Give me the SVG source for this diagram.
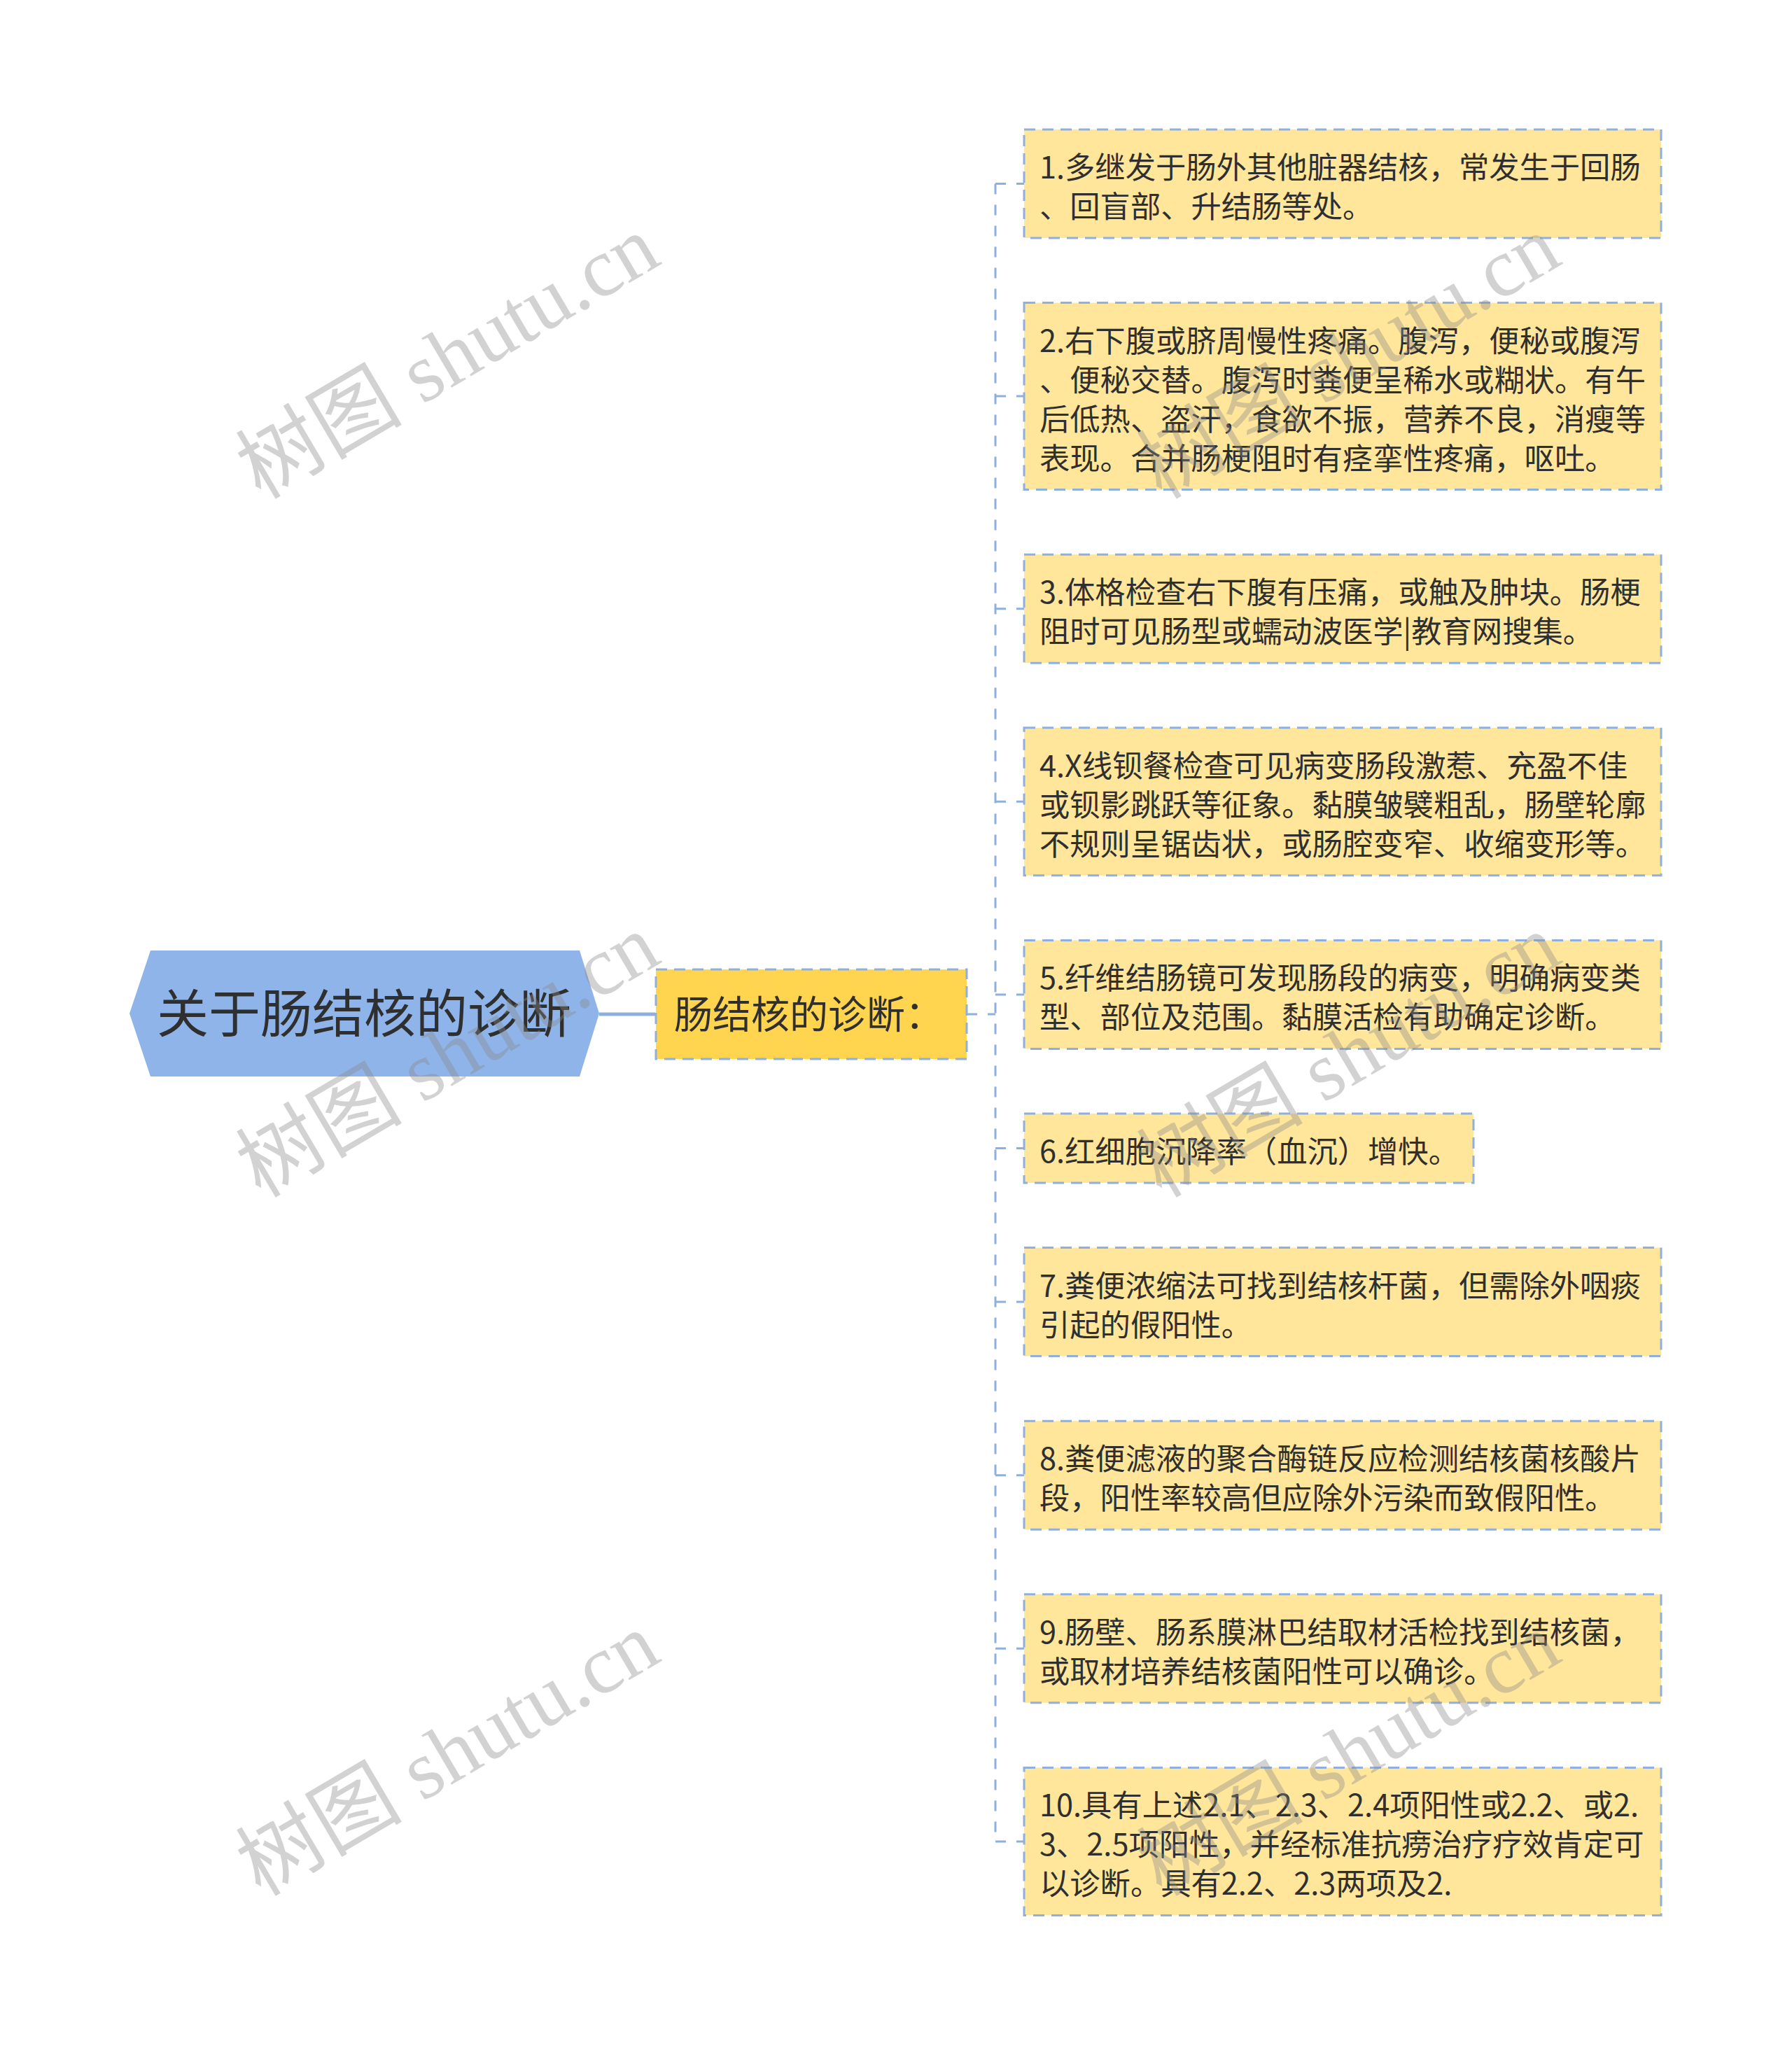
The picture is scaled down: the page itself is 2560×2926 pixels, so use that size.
<svg xmlns="http://www.w3.org/2000/svg" width="2560" height="2926" viewBox="0 0 2560 2926">
<style>
.bg{fill:#ffffff}
.root{fill:#8fb4e9;stroke:none}
.l1{fill:#ffd44f;stroke:#8fb0de;stroke-width:3;stroke-dasharray:16 10}
.leaf{fill:#ffe69b;stroke:#8fb0de;stroke-width:3;stroke-dasharray:16 10}
.t{font-family:"Noto Sans CJK SC","Noto Sans",sans-serif;fill:#2f2f2f}
.tr{font-size:74px}
.t1{font-size:55px}
.tl{font-size:43.3px}
.conn{fill:none;stroke:#8fb0de;stroke-width:3;stroke-dasharray:15 15}
.conn0{fill:none;stroke:#8fb0de;stroke-width:5}
.wm{font-family:"Liberation Serif","Noto Sans CJK SC",serif;font-size:119px;fill:#8a8a8a;opacity:0.38}
</style>
<rect class="bg" x="0" y="0" width="2560" height="2926"/>
<g id="connectors">
<path class="conn0" d="M856 1449 H936"/>
<path class="conn" d="M1381 1449 H1422"/>
<path class="conn" d="M1422 262.5 V2631"/>
<path class="conn" d="M1422 262.5 H1463"/>
<path class="conn" d="M1422 566 H1463"/>
<path class="conn" d="M1422 869.7 H1463"/>
<path class="conn" d="M1422 1145.3 H1463"/>
<path class="conn" d="M1422 1420.9 H1463"/>
<path class="conn" d="M1422 1640.5 H1463"/>
<path class="conn" d="M1422 1860.1 H1463"/>
<path class="conn" d="M1422 2107.7 H1463"/>
<path class="conn" d="M1422 2355.3 H1463"/>
<path class="conn" d="M1422 2631 H1463"/>
</g>
<g id="root">
<polygon class="root" points="185,1448 215,1358 828,1358 856,1448 828,1538 215,1538"/>
<text class="t tr" x="520" y="1475" text-anchor="middle">关于肠结核的诊断</text>
</g>
<g id="n-main">
<rect class="l1" x="937" y="1385" width="444" height="128"/>
<text class="t t1" x="963" y="1469">肠结核的诊断：</text>
</g>
<g id="n1">
<rect class="leaf" x="1463" y="185" width="910" height="155"/>
<text class="t tl" x="1485" y="255"><tspan x="1485">1.多继发于肠外其他脏器结核，常发生于回肠</tspan><tspan x="1485" dy="56">、回盲部、升结肠等处。</tspan></text>
</g>
<g id="n2">
<rect class="leaf" x="1463" y="432.6" width="910" height="267"/>
<text class="t tl" x="1485" y="502.6"><tspan x="1485">2.右下腹或脐周慢性疼痛。腹泻，便秘或腹泻</tspan><tspan x="1485" dy="56">、便秘交替。腹泻时粪便呈稀水或糊状。有午</tspan><tspan x="1485" dy="56">后低热、盗汗，食欲不振，营养不良，消瘦等</tspan><tspan x="1485" dy="56">表现。合并肠梗阻时有痉挛性疼痛，呕吐。</tspan></text>
</g>
<g id="n3">
<rect class="leaf" x="1463" y="792.2" width="910" height="155"/>
<text class="t tl" x="1485" y="862.2"><tspan x="1485">3.体格检查右下腹有压痛，或触及肿块。肠梗</tspan><tspan x="1485" dy="56">阻时可见肠型或蠕动波医学|教育网搜集。</tspan></text>
</g>
<g id="n4">
<rect class="leaf" x="1463" y="1039.8" width="910" height="211"/>
<text class="t tl" x="1485" y="1109.8"><tspan x="1485">4.X线钡餐检查可见病变肠段激惹、充盈不佳</tspan><tspan x="1485" dy="56">或钡影跳跃等征象。黏膜皱襞粗乱，肠壁轮廓</tspan><tspan x="1485" dy="56">不规则呈锯齿状，或肠腔变窄、收缩变形等。</tspan></text>
</g>
<g id="n5">
<rect class="leaf" x="1463" y="1343.4" width="910" height="155"/>
<text class="t tl" x="1485" y="1413.4"><tspan x="1485">5.纤维结肠镜可发现肠段的病变，明确病变类</tspan><tspan x="1485" dy="56">型、部位及范围。黏膜活检有助确定诊断。</tspan></text>
</g>
<g id="n6">
<rect class="leaf" x="1463" y="1591" width="642" height="99"/>
<text class="t tl" x="1485" y="1661">6.红细胞沉降率（血沉）增快。</text>
</g>
<g id="n7">
<rect class="leaf" x="1463" y="1782.6" width="910" height="155"/>
<text class="t tl" x="1485" y="1852.6"><tspan x="1485">7.粪便浓缩法可找到结核杆菌，但需除外咽痰</tspan><tspan x="1485" dy="56">引起的假阳性。</tspan></text>
</g>
<g id="n8">
<rect class="leaf" x="1463" y="2030.2" width="910" height="155"/>
<text class="t tl" x="1485" y="2100.2"><tspan x="1485">8.粪便滤液的聚合酶链反应检测结核菌核酸片</tspan><tspan x="1485" dy="56">段，阳性率较高但应除外污染而致假阳性。</tspan></text>
</g>
<g id="n9">
<rect class="leaf" x="1463" y="2277.8" width="910" height="155"/>
<text class="t tl" x="1485" y="2347.8"><tspan x="1485">9.肠壁、肠系膜淋巴结取材活检找到结核菌，</tspan><tspan x="1485" dy="56">或取材培养结核菌阳性可以确诊。</tspan></text>
</g>
<g id="n10">
<rect class="leaf" x="1463" y="2525.4" width="910" height="211"/>
<text class="t tl" x="1485" y="2595.4"><tspan x="1485">10.具有上述2.1、2.3、2.4项阳性或2.2、或2.</tspan><tspan x="1485" dy="56">3、2.5项阳性，并经标准抗痨治疗疗效肯定可</tspan><tspan x="1485" dy="56">以诊断。具有2.2、2.3两项及2.</tspan></text>
</g>
<g id="watermarks">
<text class="wm" text-anchor="middle" transform="translate(660,545) rotate(-30.5)">树图 shutu.cn</text>
<text class="wm" text-anchor="middle" transform="translate(660,1543) rotate(-30.5)">树图 shutu.cn</text>
<text class="wm" text-anchor="middle" transform="translate(660,2541) rotate(-30.5)">树图 shutu.cn</text>
<text class="wm" text-anchor="middle" transform="translate(1947,545) rotate(-30.5)">树图 shutu.cn</text>
<text class="wm" text-anchor="middle" transform="translate(1947,1543) rotate(-30.5)">树图 shutu.cn</text>
<text class="wm" text-anchor="middle" transform="translate(1947,2541) rotate(-30.5)">树图 shutu.cn</text>
</g>
</svg>
